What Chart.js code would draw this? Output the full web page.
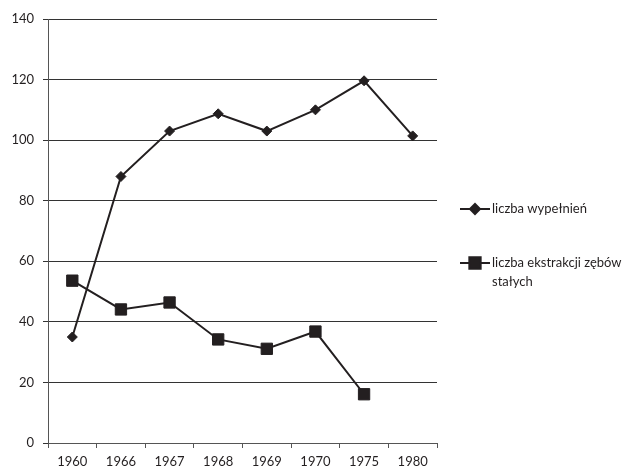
<!DOCTYPE html>
<html>
<head>
<meta charset="utf-8">
<script src="https://cdn.jsdelivr.net/npm/chart.js"></script>
<style>
  html, body { margin: 0; padding: 0; background: #fff; }
  #wrap { width: 634px; height: 470px; }
</style>
</head>
<body>
<div id="wrap"><canvas id="myChart" width="634" height="470"></canvas></div>
<script>
// chart data
const years = ['1960', '1966', '1967', '1968', '1969', '1970', '1975', '1980'];
const fillings = [35, 88, 103, 108.7, 103, 110, 119.6, 101.4];
const extractions = [53.6, 44.1, 46.4, 34.2, 31.1, 36.8, 16.1, null];
const seriesNames = ['liczba wypełnień', 'liczba ekstrakcji zębów stałych'];
const legendLines = [['liczba wypełnień'], ['liczba ekstrakcji zębów', 'stałych']];
const yMin = 0, yMax = 140, yStep = 20;

const ink = '#231f20';
const fontFamily = 'Lato, "Open Sans", sans-serif';

// simple legend on the right, drawn after the chart
const sideLegend = {
    id: 'sideLegend',
    afterDraw(chart) {
        const ctx = chart.ctx;
        const rows = [209, 263];
        ctx.save();
        chart.data.datasets.forEach((ds, i) => {
            const y = rows[i];
            ctx.strokeStyle = ink;
            ctx.lineWidth = 2;
            ctx.beginPath();
            ctx.moveTo(460, y);
            ctx.lineTo(490, y);
            ctx.stroke();
            ctx.fillStyle = ink;
            Chart.helpers.drawPoint(ctx, {
                pointStyle: ds.pointStyle,
                radius: ds.pointRadius,
                rotation: 0,
                borderWidth: 1
            }, 475, y);
            ctx.font = '13px ' + fontFamily;
            ctx.textBaseline = 'middle';
            ctx.textAlign = 'left';
            legendLines[i].forEach((line, j) => {
                ctx.fillText(line, 492, y + j * 19);
            });
        });
        ctx.restore();
    }
};

const ctx = document.getElementById('myChart').getContext('2d');
new Chart(ctx, {
    type: 'line',
    data: {
        labels: years,
        datasets: [
            {
                label: seriesNames[0],
                data: fillings,
                borderColor: ink,
                backgroundColor: ink,
                borderWidth: 2,
                pointStyle: 'rectRot',
                pointRadius: 5,
                pointBorderWidth: 1,
                tension: 0
            },
            {
                label: seriesNames[1],
                data: extractions,
                borderColor: ink,
                backgroundColor: ink,
                borderWidth: 2,
                pointStyle: 'rect',
                pointRadius: 8,
                pointBorderWidth: 1,
                tension: 0
            }
        ]
    },
    options: {
        responsive: false,
        animation: false,
        layout: { padding: { top: 19, right: 197, left: 0, bottom: 0 } },
        plugins: {
            legend: { display: false },
            tooltip: { enabled: false }
        },
        scales: {
            x: {
                type: 'category',
                offset: true,
                grid: {
                    offset: true,
                    drawOnChartArea: false,
                    drawTicks: true,
                    tickLength: 5,
                    color: '#555'
                },
                border: { color: '#555', width: 1 },
                ticks: {
                    color: ink,
                    font: { family: fontFamily, size: 13 },
                    padding: 6,
                    maxRotation: 0
                },
                afterFit(scale) { scale.height = 27; }
            },
            y: {
                min: yMin,
                max: yMax,
                ticks: {
                    stepSize: yStep,
                    color: ink,
                    font: { family: fontFamily, size: 13 },
                    padding: 9
                },
                grid: {
                    color: '#333',
                    lineWidth: 1,
                    tickLength: 5
                },
                border: { color: '#555', width: 1 },
                afterFit(scale) { scale.width = 48; }
            }
        }
    },
    plugins: [sideLegend]
});
</script>
</body>
</html>
